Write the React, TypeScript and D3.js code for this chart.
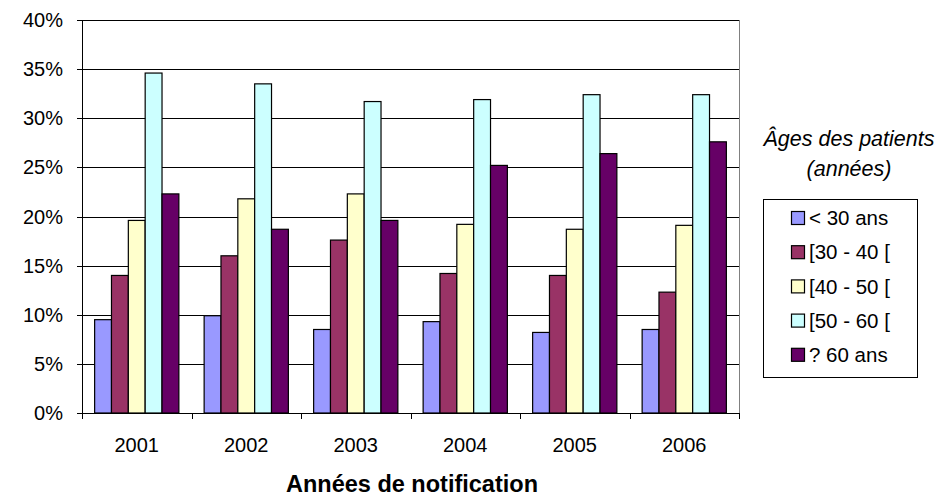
import React from "react";
import * as d3 from "d3";

const years = ["2001", "2002", "2003", "2004", "2005", "2006"];
const seriesNames = ["< 30 ans", "[30 - 40 [", "[40 - 50 [", "[50 - 60 [", "? 60 ans"];
const seriesColors = ["#9999FF", "#993366", "#FFFFCC", "#CCFFFF", "#660066"];
const under30 = [9.5, 9.9, 8.5, 9.3, 8.2, 8.5];
const age30to40 = [14.0, 16.0, 17.6, 14.2, 14.0, 12.3];
const age40to50 = [19.6, 21.8, 22.3, 19.2, 18.7, 19.1];
const age50to60 = [34.6, 33.5, 31.7, 31.9, 32.4, 32.4];
const over60 = [22.3, 18.7, 19.6, 25.2, 26.4, 27.6];
const yTicks = [0, 5, 10, 15, 20, 25, 30, 35, 40];
const legendTitle1 = "Âges des patients";
const legendTitle2 = "(années)";
const xTitle = "Années de notification";

const seriesValues = [under30, age30to40, age40to50, age50to60, over60];

export default function App() {
  const W = 947, H = 496;
  const left = 82, right = 739, top = 20, bottom = 413;
  const font = "'Liberation Sans', Arial, sans-serif";

  const x0 = d3.scaleBand<string>().domain(years).range([left, right]).paddingInner(0).paddingOuter(0);
  const groupW = x0.bandwidth();
  const barW = groupW / 6.5;
  const y = d3.scaleLinear().domain([0, 40]).range([bottom, top]);

  return (
    <svg width={W} height={H} style={{ position: "absolute", left: 0, top: 0 }} fontFamily={font}>
      <rect x={0} y={0} width={W} height={H} fill="#fff" />
      {yTicks.map((t) => (
        <line key={"g" + t} x1={left} x2={right} y1={Math.round(y(t)) + 0.5} y2={Math.round(y(t)) + 0.5}
          stroke="#000" strokeWidth={1} />
      ))}
      <line x1={right + 0.5} x2={right + 0.5} y1={top} y2={bottom} stroke="#808080" strokeWidth={1} />
      {years.map((yr, i) => (
        <g key={yr}>
          {seriesValues.map((vals, s) => {
            const start = (x0(yr) as number) + (groupW - 5 * barW) / 2 + s * barW;
            return (
              <rect key={s} x={start} y={y(vals[i])} width={barW} height={bottom - y(vals[i])}
                fill={seriesColors[s]} stroke="#000" strokeWidth={1.2} />
            );
          })}
        </g>
      ))}
      <line x1={left + 0.5} x2={left + 0.5} y1={top} y2={bottom + 1} stroke="#000" strokeWidth={1} />
      {yTicks.map((t) => (
        <g key={"t" + t}>
          <line x1={left - 5} x2={left} y1={Math.round(y(t)) + 0.5} y2={Math.round(y(t)) + 0.5} stroke="#000" />
          <text x={63} y={y(t)} dy="0.35em" textAnchor="end" fontSize={20} fill="#000">{t}%</text>
        </g>
      ))}
      {[...years.map((yr) => x0(yr) as number), right].map((xx, i) => (
        <line key={"xt" + i} x1={Math.round(xx) + 0.5} x2={Math.round(xx) + 0.5} y1={bottom} y2={bottom + 6} stroke="#000" />
      ))}
      {years.map((yr) => (
        <text key={"xl" + yr} x={(x0(yr) as number) + groupW / 2} y={445} dy="0.35em" textAnchor="middle" fontSize={20} fill="#000">{yr}</text>
      ))}
      <text x={412} y={484} dy="0.35em" textAnchor="middle" fontSize={23.5} fontWeight="bold" fill="#000">{xTitle}</text>
      <text x={849} y={138} dy="0.35em" textAnchor="middle" fontSize={21.5} fontStyle="italic" fill="#000">{legendTitle1}</text>
      <text x={849} y={168} dy="0.35em" textAnchor="middle" fontSize={21.5} fontStyle="italic" fill="#000">{legendTitle2}</text>
      <rect x={763.5} y={199.5} width={154} height={178} fill="#fff" stroke="#000" strokeWidth={1} />
      {seriesNames.map((nm, i) => {
        const cy = 218 + i * 34.2;
        return (
          <g key={nm}>
            <rect x={791.5} y={cy - 6.5} width={13} height={13} fill={seriesColors[i]} stroke="#000" strokeWidth={1.2} />
            <text x={809} y={cy} dy="0.35em" fontSize={20.5} fill="#000">{nm}</text>
          </g>
        );
      })}
    </svg>
  );
}
